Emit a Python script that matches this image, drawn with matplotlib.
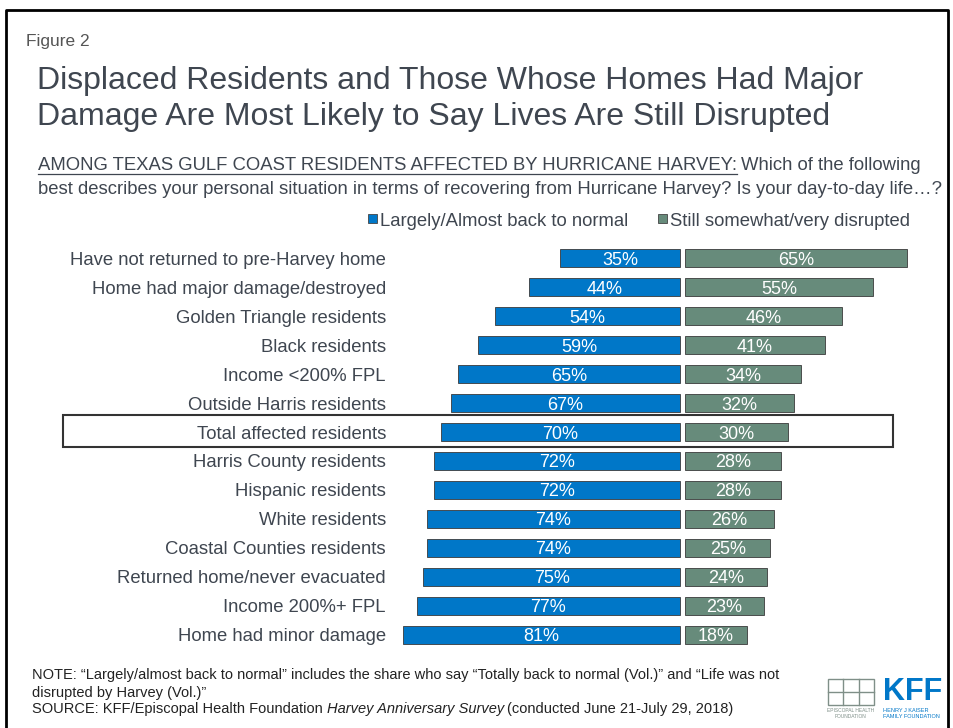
import matplotlib
matplotlib.use('Agg')
import matplotlib.pyplot as plt
from matplotlib.patches import Rectangle
from matplotlib.lines import Line2D
from matplotlib.transforms import blended_transform_factory
import numpy as np

plt.rcParams['font.family'] = ['Liberation Sans', 'DejaVu Sans']

categories = [
    'Have not returned to pre-Harvey home',
    'Home had major damage/destroyed',
    'Golden Triangle residents',
    'Black residents',
    'Income <200% FPL',
    'Outside Harris residents',
    'Total affected residents',
    'Harris County residents',
    'Hispanic residents',
    'White residents',
    'Coastal Counties residents',
    'Returned home/never evacuated',
    'Income 200%+ FPL',
    'Home had minor damage',
]
normal = [35, 44, 54, 59, 65, 67, 70, 72, 72, 74, 74, 75, 77, 81]
disrupted = [65, 55, 46, 41, 34, 32, 30, 28, 28, 26, 25, 24, 23, 18]
series_names = ['Largely/Almost back to normal', 'Still somewhat/very disrupted']

BLUE = '#0077C8'
GREEN = '#678B7B'
TEXT = '#3F4650'
VA = 'center_baseline'

W, H = 954, 728
fig = plt.figure(figsize=(W / 100, H / 100), dpi=100)


def fx(px):
    return px / W


def fy(py):
    return 1 - py / H


# outer frame (left, top, right)
fig.add_artist(Line2D([fx(6), fx(6), fx(948), fx(948)], [0, fy(10), fy(10), 0],
                      transform=fig.transFigure, color='black', lw=2))

fig.text(fx(26), fy(40), 'Figure 2', fontsize=12.5, color='#555555', va=VA)
fig.text(fx(37), fy(78), 'Displaced Residents and Those Whose Homes Had Major',
         fontsize=23, color=TEXT, va=VA)
fig.text(fx(37), fy(114), 'Damage Are Most Likely to Say Lives Are Still Disrupted',
         fontsize=23, color=TEXT, va=VA)

# subtitle with underlined lead-in
renderer = fig.canvas.get_renderer()
lead = fig.text(fx(38), fy(164), 'AMONG TEXAS GULF COAST RESIDENTS AFFECTED BY HURRICANE HARVEY:',
                fontsize=13.3, color=TEXT, va=VA)
bb = lead.get_window_extent(renderer)
fig.add_artist(Line2D([fx(bb.x0), fx(bb.x1)], [fy(174), fy(174)],
                      transform=fig.transFigure, color=TEXT, lw=0.9))
fig.text(fx(bb.x1 + 4), fy(164), 'Which of the following',
         fontsize=13.3, color=TEXT, va=VA)
fig.text(fx(38), fy(187), 'best describes your personal situation in terms of recovering from '
         'Hurricane Harvey? Is your day-to-day life\u2026?',
         fontsize=13.3, color=TEXT, va=VA)

# legend
for sx, col, name in [(368, BLUE, series_names[0]), (658, GREEN, series_names[1])]:
    fig.add_artist(Rectangle((fx(sx), fy(223)), fx(9), 9 / H, transform=fig.transFigure,
                             facecolor=col, edgecolor='#444444', lw=0.6))
    fig.text(fx(sx + 12), fy(219), name, fontsize=13.3, color=TEXT, va=VA)

# bars
gap = 1.5
ax = fig.add_axes([fx(389.3), fy(650), fx(547), 407 / H])
y = np.arange(len(categories))
ax.barh(y, [-v for v in normal], left=0, height=0.6, color=BLUE,
        edgecolor='#3a3a3a', lw=0.6)
ax.barh(y, disrupted, left=gap, height=0.6, color=GREEN,
        edgecolor='#3a3a3a', lw=0.6)
for i in y:
    ax.text(-normal[i] / 2, i, f'{normal[i]}%', ha='center', va=VA,
            color='white', fontsize=13)
    ax.text(gap + disrupted[i] / 2, i, f'{disrupted[i]}%', ha='center', va=VA,
            color='white', fontsize=13)
ax.set_xlim(-85, 75)
ax.set_ylim(13.52, -0.52)
ax.axis('off')

lab_tr = blended_transform_factory(fig.transFigure, ax.transData)
for i, name in enumerate(categories):
    ax.text(fx(386), i, name, transform=lab_tr, ha='right', va=VA,
            fontsize=13.3, color=TEXT)

# highlight box around the total row
fig.add_artist(Rectangle((fx(63), fy(447)), fx(893 - 63), 32 / H, transform=fig.transFigure,
                         facecolor='none', edgecolor='#333333', lw=1.5))

# notes
note_kw = dict(fontsize=10.5, color='#222222', va=VA)
fig.text(fx(32), fy(674), 'NOTE: \u201cLargely/almost back to normal\u201d includes the share who say '
         '\u201cTotally back to normal (Vol.)\u201d and \u201cLife was not', **note_kw)
fig.text(fx(32), fy(691), 'disrupted by Harvey (Vol.)\u201d', **note_kw)
s1 = fig.text(fx(32), fy(708), 'SOURCE: KFF/Episcopal Health Foundation ', **note_kw)
x1 = s1.get_window_extent(renderer).x1
s2 = fig.text(fx(x1), fy(708), 'Harvey Anniversary Survey', style='italic', **note_kw)
x2 = s2.get_window_extent(renderer).x1
fig.text(fx(x2 + 3), fy(708), '(conducted June 21-July 29, 2018)', **note_kw)

# logos
ehf_col = '#7f8f88'
fig.add_artist(Rectangle((fx(828), fy(705)), fx(46), 26 / H, transform=fig.transFigure,
                         facecolor='none', edgecolor=ehf_col, lw=1))
for lx in [843, 859]:
    fig.add_artist(Line2D([fx(lx), fx(lx)], [fy(705), fy(679)], transform=fig.transFigure,
                          color=ehf_col, lw=1))
fig.add_artist(Line2D([fx(828), fx(874)], [fy(692), fy(692)], transform=fig.transFigure,
                      color=ehf_col, lw=1))
fig.text(fx(851), fy(711), 'EPISCOPAL HEALTH', fontsize=3.5, color=ehf_col, ha='center', va='center')
fig.text(fx(851), fy(717), 'FOUNDATION', fontsize=3.5, color=ehf_col, ha='center', va='center')
fig.text(fx(883), fy(692), 'KFF', fontsize=22, color=BLUE, fontweight='bold',
         ha='left', va='center')
fig.text(fx(883), fy(711), 'HENRY J KAISER', fontsize=4, color=BLUE, va='center')
fig.text(fx(883), fy(717), 'FAMILY FOUNDATION', fontsize=4, color=BLUE, va='center')

fig.savefig('out.png', dpi=100)
